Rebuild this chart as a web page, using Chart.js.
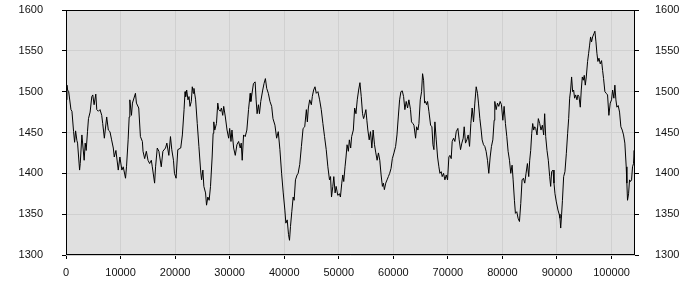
<!DOCTYPE html>
<html>
<head>
<meta charset="utf-8">
<script src="https://cdn.jsdelivr.net/npm/chart.js@4/dist/chart.umd.min.js"></script>
<style>
html,body{margin:0;padding:0;background:#fff;}
#wrap{width:700px;height:300px;}
</style>
</head>
<body>
<div id="wrap"><canvas id="c" width="700" height="300"></canvas></div>
<script>
const xValues = [
0,180,300,490,910,1090,1390,1580,1760,2000,2120,2490,2610,2910,3330,3520,3700,3940,4120,4420,4730,4910,5150,5460,5640,5940,6240,6550,6730,7030,7460,7760,8060,8360,8670,8850,9150,9580,9880,10240,10490,10790,10910,11090,11390,11580,11700,12000,12180,12730,12910,13330,13640,14000,14120,14420,14730,15030,15330,15640,15820,16240,16420,16730,17030,17460,17760,18240,18490,18850,19150,19390,19700,19880,20180,20490,
21030,21330,21640,21820,21940,22120,22360,22550,22730,22970,23150,23330,23450,23760,24060,24360,24670,24850,25090,25270,25580,25760,26000,26240,26490,26790,26970,27090,27270,27580,27820,28000,28300,28490,28730,28910,29210,29520,29820,30000,30240,30420,30730,31030,31330,31640,31940,32120,32300,32550,32850,33150,33460,33760,33880,34060,34360,34670,34850,35030,35270,35460,35700,36060,36300,36550,36790,37090,37390,37700,37940,38300,38610,38910,39210,39520,39820,40120,40300,40550,40790,40970,41150,41390,41640,41820,42060,42360,
42550,42850,43150,43460,43760,44060,44240,44420,44670,44970,45150,45390,45640,45880,46180,46490,46790,47090,47390,47700,48000,48300,48490,48670,48910,49090,49330,49520,49820,50120,50300,50550,50730,50910,51150,51330,51520,51760,51940,52180,52360,52670,52910,53150,53390,53640,53880,54120,54360,54550,54730,54970,55150,55330,55580,55820,56060,56300,56550,56790,57030,57270,57520,57760,58000,58180,58360,58610,58850,59090,59330,59580,59820,60120,60420,60670,60910,61150,61390,61640,61880,62120,62360,62610,62850,63150,63330,63580,
63780,64080,64270,64510,64690,64940,65180,65360,65550,65730,65910,66100,66280,66520,66830,67070,67260,67440,67620,67870,68110,68350,68540,68780,68960,69210,69450,69700,69940,70180,70370,70610,70790,71040,71280,71530,71830,72070,72320,72560,72810,72990,73230,73480,73720,73970,74210,74450,74700,74940,75190,75430,75610,75860,76100,76280,76530,76770,77010,77260,77500,77750,77990,78240,78480,78600,78850,79090,79330,79580,79820,80070,80310,80550,80800,81040,81290,81530,81770,81960,82200,82380,82630,82870,83120,83360,83600,83850,84090,84330,84580,84820,85000,
85180,85370,85550,85730,85910,86100,86340,86580,86830,87070,87320,87560,87740,87930,88170,88410,88660,88840,89020,89270,89450,89630,89880,90180,90400,90550,90680,90850,91000,91220,91460,91710,91950,92140,92320,92500,92680,92870,93050,93230,93420,93660,93840,94030,94270,94450,94640,94820,95000,95190,95370,95610,95800,95980,96160,96340,96530,96770,96950,97140,97320,97500,97690,97930,98170,98360,98540,98780,99030,99270,99510,99760,100000,100190,100430,100610,100800,100980,101220,101470,101710,101960,102200,102440,102690,102810,102930,103120,103300,103480,103670,103850,104030,104150,104300
];
const yValues = [
1490,1508,1502,1500,1478,1476,1451,1438,1452,1440,1437,1404,1412,1447,1416,1437,1428,1451,1467,1475,1494,1496,1484,1497,1478,1476,1478,1471,1461,1443,1469,1453,1451,1441,1431,1420,1428,1404,1420,1404,1408,1398,1394,1408,1441,1469,1490,1471,1486,1498,1486,1480,1445,1439,1427,1418,1427,1416,1412,1416,1408,1388,1408,1431,1427,1408,1427,1431,1437,1422,1445,1429,1416,1400,1394,1429,
1431,1447,1478,1500,1494,1502,1490,1494,1482,1488,1506,1498,1504,1490,1461,1433,1404,1392,1404,1384,1376,1361,1371,1367,1384,1420,1449,1463,1453,1461,1486,1478,1476,1480,1471,1482,1469,1453,1443,1455,1439,1453,1431,1422,1435,1439,1431,1437,1416,1447,1445,1453,1478,1498,1488,1496,1510,1512,1490,1473,1484,1473,1488,1502,1510,1516,1504,1498,1488,1482,1467,1459,1443,1451,1429,1400,1376,1355,1339,1343,1325,1318,1335,1353,1371,1367,1392,1398,
1400,1411,1433,1455,1457,1478,1463,1480,1490,1484,1494,1502,1506,1498,1500,1490,1478,1461,1445,1429,1408,1392,1396,1371,1384,1396,1376,1384,1373,1375,1371,1388,1398,1390,1408,1420,1435,1427,1441,1431,1445,1453,1480,1473,1490,1502,1511,1494,1473,1467,1471,1478,1465,1453,1441,1451,1431,1453,1435,1425,1416,1425,1416,1398,1384,1388,1380,1388,1392,1396,1400,1406,1418,1425,1433,1447,1469,1490,1500,1501,1494,1478,1488,1480,1490,1478,1463,1461,
1459,1443,1457,1453,1461,1490,1500,1522,1514,1486,1488,1484,1488,1476,1459,1457,1435,1429,1463,1441,1420,1408,1400,1402,1396,1400,1392,1398,1392,1420,1422,1418,1439,1443,1439,1451,1455,1441,1429,1437,1443,1457,1437,1441,1447,1433,1461,1480,1463,1486,1506,1498,1486,1467,1453,1441,1435,1433,1427,1416,1400,1420,1433,1441,1465,1488,1478,1486,1482,1488,1484,1465,1482,1461,1445,1427,1416,1400,1410,1392,1367,1351,1353,1345,1341,1363,1392,1394,1388,1400,1412,1396,1416,
1428,1449,1461,1453,1457,1455,1447,1467,1461,1453,1459,1447,1473,1445,1428,1416,1396,1384,1402,1404,1388,1375,1365,1355,1350,1345,1333,1350,1367,1396,1402,1424,1449,1467,1492,1502,1518,1500,1502,1492,1496,1490,1496,1494,1481,1502,1518,1514,1520,1508,1518,1537,1547,1557,1567,1561,1567,1571,1574,1561,1547,1537,1541,1534,1538,1526,1516,1500,1498,1496,1471,1486,1490,1502,1492,1508,1490,1481,1483,1475,1457,1453,1447,1437,1408,1388,1367,1375,1392,1390,1392,1408,1412,1428,1405
];
const xTicks = [0,10000,20000,30000,40000,50000,60000,70000,80000,90000,100000];
const yTicks = [1300,1350,1400,1450,1500,1550,1600];
const xMax = 104300;

const points = xValues.map((x, i) => ({x: x, y: yValues[i]}));

const frame = {
  id: 'frame',
  beforeDraw(chart) {
    const a = chart.chartArea, ctx = chart.ctx;
    ctx.save();
    ctx.fillStyle = '#e0e0e0';
    ctx.fillRect(a.left, a.top, a.right - a.left, a.bottom - a.top);
    ctx.restore();
  },
  afterDraw(chart) {
    const a = chart.chartArea, ctx = chart.ctx;
    ctx.save();
    ctx.strokeStyle = '#000';
    ctx.lineWidth = 1;
    ctx.strokeRect(Math.round(a.left) + 0.5, Math.round(a.top) + 0.5, Math.round(a.right - a.left) - 1, Math.round(a.bottom - a.top) - 1);
    ctx.restore();
  }
};

const tickFont = {family: 'Liberation Sans', size: 11};

function fitV(w) {
  return function (s) { s.width = w; s.paddingTop = 0; s.paddingBottom = 0; };
}

new Chart(document.getElementById('c'), {
  type: 'line',
  data: {
    datasets: [{
      data: points,
      borderColor: '#000',
      borderWidth: 1,
      pointRadius: 0,
      tension: 0,
      fill: false
    }]
  },
  options: {
    responsive: false,
    animation: false,
    devicePixelRatio: 1,
    layout: {padding: {top: 10, left: 0, right: 0, bottom: 0}},
    plugins: {legend: {display: false}, tooltip: {enabled: false}},
    scales: {
      x: {
        type: 'linear',
        min: 0,
        max: xMax,
        afterBuildTicks(s) { s.ticks = xTicks.map(v => ({value: v})); },
        afterFit(s) { s.height = 45; s.paddingLeft = 0; s.paddingRight = 0; },
        grid: {color: '#d0d0d0', tickColor: '#000', tickLength: 4, drawTicks: true},
        border: {display: false},
        ticks: {font: tickFont, color: '#111', padding: 7, maxRotation: 0, autoSkip: false, callback: v => String(v)}
      },
      y: {
        position: 'left',
        min: 1300,
        max: 1600,
        afterBuildTicks(s) { s.ticks = yTicks.map(v => ({value: v})); },
        afterFit: fitV(66),
        grid: {color: '#d0d0d0', tickColor: '#000', tickLength: 4},
        border: {display: false},
        ticks: {font: tickFont, color: '#111', padding: 19, callback: v => String(v)}
      },
      y2: {
        position: 'right',
        min: 1300,
        max: 1600,
        afterBuildTicks(s) { s.ticks = yTicks.map(v => ({value: v})); },
        afterFit: fitV(65),
        grid: {drawOnChartArea: false, tickColor: '#000', tickLength: 4},
        border: {display: false},
        ticks: {font: tickFont, color: '#111', padding: 16, callback: v => String(v)}
      }
    }
  },
  plugins: [frame]
});
</script>
</body>
</html>
